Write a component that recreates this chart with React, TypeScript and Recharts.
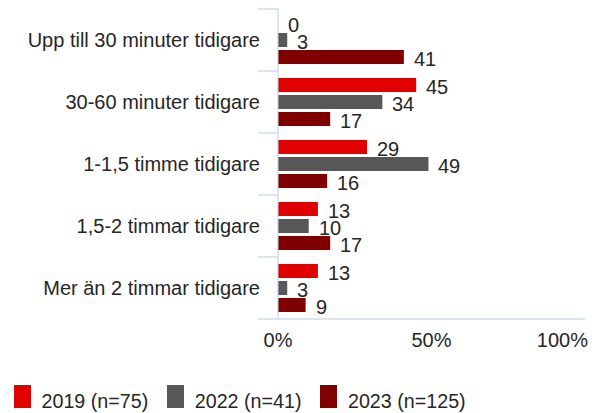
import React from 'react';
import { BarChart, Bar, XAxis, YAxis, LabelList } from 'recharts';

const categories = [
  'Upp till 30 minuter tidigare',
  '30-60 minuter tidigare',
  '1-1,5 timme tidigare',
  '1,5-2 timmar tidigare',
  'Mer än 2 timmar tidigare',
];
const s2019 = [0, 45, 29, 13, 13];
const s2022 = [3, 34, 49, 10, 3];
const s2023 = [41, 17, 16, 17, 9];
const seriesNames = ['2019 (n=75)', '2022 (n=41)', '2023 (n=125)'];
const xTicks = [0, 50, 100];

const COLORS = ['#e00000', '#575757', '#800000'];
const AXIS = '#b9cde5';
const TEXT = '#262626';
const FONT = '"Liberation Sans", Arial, sans-serif';

const W = 597;
const H = 413;
const M = { top: 9, right: 12, left: 0, bottom: 64 };
const Y_W = 278;
const X_H = 30;
const BAND = (H - M.top - M.bottom - X_H) / categories.length;

const data = categories.map((c, i) => ({
  name: c,
  a: s2019[i],
  b: s2022[i],
  c: s2023[i],
}));

const CatTick = ({ x, y, payload, index }: any) => {
  const half = BAND / 2;
  return (
    <g>
      <line x1={x - 20} x2={x} y1={y - half} y2={y - half} stroke={AXIS} strokeWidth={1} />
      {index === categories.length - 1 && (
        <line x1={x - 20} x2={x} y1={y + half} y2={y + half} stroke={AXIS} strokeWidth={1} />
      )}
      <text x={x - 18} y={y} dy="0.35em" textAnchor="end" fill={TEXT} fontSize={20} fontFamily={FONT}>
        {payload.value}
      </text>
    </g>
  );
};

const PctTick = ({ x, y, payload, index }: any) => {
  const last = index === xTicks.length - 1;
  return (
    <text
      x={last ? x + 3 : x}
      y={y}
      dy="0.71em"
      textAnchor={last ? 'end' : 'middle'}
      fill={TEXT}
      fontSize={20}
      fontFamily={FONT}
    >
      {payload.value}%
    </text>
  );
};

const ValueLabel = (p: any) => (
  <text
    x={p.x + Math.round(p.width) + 10}
    y={p.y + p.height / 2 + 2}
    dy="0.35em"
    fill={TEXT}
    fontSize={20}
    fontFamily={FONT}
  >
    {p.value}
  </text>
);

const LegendBox = () => (
  <div
    style={{
      position: 'absolute',
      left: 14,
      top: 385,
      display: 'flex',
      alignItems: 'flex-start',
      fontFamily: FONT,
      fontSize: 19.7,
      color: TEXT,
    }}
  >
    {seriesNames.map((n, i) => (
      <div key={n} style={{ display: 'flex', alignItems: 'flex-start', marginRight: 19 }}>
        <div style={{ width: 16.5, height: 23, background: COLORS[i], marginRight: 11 }} />
        <span style={{ lineHeight: '23px', marginTop: 5, whiteSpace: 'nowrap' }}>{n}</span>
      </div>
    ))}
  </div>
);

export default function App() {
  return (
    <div style={{ position: 'absolute', left: 0, top: 0, width: W, height: H, background: '#fff' }}>
      <BarChart
        width={W}
        height={H}
        data={data}
        layout="vertical"
        margin={M}
        barSize={14}
        barGap={3}
      >
        <XAxis
          type="number"
          domain={[0, 100]}
          ticks={xTicks}
          height={X_H}
          tickLine={false}
          tickSize={0}
          tickMargin={14}
          axisLine={{ stroke: AXIS }}
          tick={<PctTick />}
          interval={0}
        />
        <YAxis
          type="category"
          dataKey="name"
          width={Y_W}
          tickLine={false}
          tickSize={0}
          tickMargin={0}
          axisLine={{ stroke: AXIS }}
          tick={<CatTick />}
          interval={0}
        />
        <Bar dataKey="a" name={seriesNames[0]} fill={COLORS[0]} minPointSize={0.01} isAnimationActive={false}>
          <LabelList dataKey="a" content={<ValueLabel />} />
        </Bar>
        <Bar dataKey="b" name={seriesNames[1]} fill={COLORS[1]} isAnimationActive={false}>
          <LabelList dataKey="b" content={<ValueLabel />} />
        </Bar>
        <Bar dataKey="c" name={seriesNames[2]} fill={COLORS[2]} isAnimationActive={false}>
          <LabelList dataKey="c" content={<ValueLabel />} />
        </Bar>
      </BarChart>
      <LegendBox />
    </div>
  );
}
